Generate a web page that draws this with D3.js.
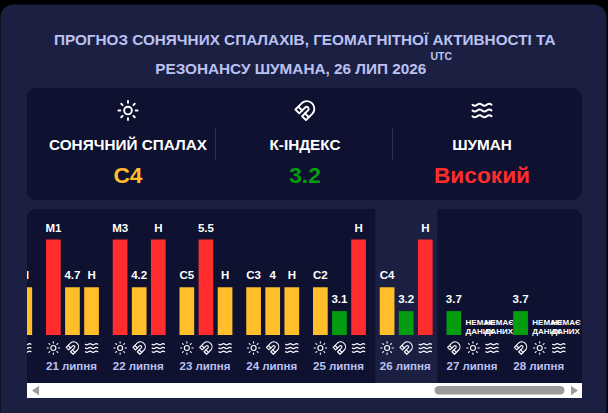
<!DOCTYPE html>
<html lang="uk">
<head>
<meta charset="utf-8">
<script src="https://cdn.jsdelivr.net/npm/d3@7"></script>
<style>
  html, body { margin: 0; padding: 0; background: #000; }
  svg { display: block; font-family: "Liberation Sans", Arial, sans-serif; }
</style>
</head>
<body>
<svg id="chart" width="608" height="413"></svg>
<script>
// Forecast values per day; severity: 1 low, 2 moderate, 4 high, null when nothing was published.
// The first day is scrolled almost out of the panel, so only its last column is kept.
const days = ["20 липня", "21 липня", "22 липня", "23 липня", "24 липня", "25 липня", "26 липня", "27 липня", "28 липня"];
const flareLabels = ["", "M1", "M3", "C5", "C3", "C2", "C4", null, null];
const flareLevels = [0, 4, 4, 2, 2, 2, 2, null, null];
const kLabels = ["", "4.7", "4.2", "5.5", "4", "3.1", "3.2", "3.7", "3.7"];
const kLevels = [0, 2, 2, 4, 2, 1, 1, 1, 1];
const noiseLabels = ["Н", "Н", "Н", "Н", "Н", "Н", "Н", null, null];
const noiseLevels = [2, 2, 4, 2, 2, 4, 4, null, null];
const noDataLabel = ["НЕМАЄ", "ДАНИХ"];
const activeDay = "26 липня";

const titleLines = ["ПРОГНОЗ СОНЯЧНИХ СПАЛАХІВ, ГЕОМАГНІТНОЇ АКТИВНОСТІ ТА", "РЕЗОНАНСУ ШУМАНА, 26 ЛИП 2026"];
const summary = [
  { icon: "sun", name: "СОНЯЧНИЙ СПАЛАХ", value: "C4", level: 2 },
  { icon: "magnet", name: "К-ІНДЕКС", value: "3.2", level: 1 },
  { icon: "waves", name: "ШУМАН", value: "Високий", level: 4 }
];

const ICONS = {
  sun: ["M12 8a4 4 0 1 0 0 8a4 4 0 1 0 0-8", "M12 2v2", "M12 20v2", "m4.93 4.93 1.41 1.41", "m17.66 17.66 1.41 1.41", "M2 12h2", "M20 12h2", "m6.34 17.66-1.41 1.41", "m19.07 4.93-1.41 1.41"],
  magnet: ["m6 15-4-4 6.75-6.77a7.79 7.79 0 0 1 11 11L13 22l-4-4 6.39-6.36a2.14 2.14 0 0 0-3-3L6 15", "m5 8 4 4", "m12 15 4 4"],
  waves: ["M2 6c.6.5 1.2 1 2.5 1C7 7 7 5 9.5 5c2.6 0 2.4 2 5 2 2.5 0 2.5-2 5-2 1.3 0 1.9.5 2.5 1", "M2 12c.6.5 1.2 1 2.5 1 2.5 0 2.5-2 5-2 2.6 0 2.4 2 5 2 2.5 0 2.5-2 5-2 1.3 0 1.9.5 2.5 1", "M2 18c.6.5 1.2 1 2.5 1 2.5 0 2.5-2 5-2 2.6 0 2.4 2 5 2 2.5 0 2.5-2 5-2 1.3 0 1.9.5 2.5 1"]
};

const severityColor = d3.scaleOrdinal().domain([1, 2, 4]).range(["#039e0f", "#ffbe2a", "#ff2d2d"]);

const svg = d3.select("#chart");

function drawIcon(parent, name, cx, cy, size, color, strokeWidth) {
  const g = parent.append("g")
    .attr("transform", `translate(${cx - size / 2},${cy - size / 2}) scale(${size / 24})`)
    .attr("fill", "none").attr("stroke", color).attr("stroke-width", strokeWidth)
    .attr("stroke-linecap", "round").attr("stroke-linejoin", "round");
  g.selectAll("path").data(ICONS[name]).join("path").attr("d", d => d);
}

// Page card
svg.append("rect").attr("x", 0.5).attr("y", 4.5).attr("width", 606).attr("height", 440).attr("rx", 13).attr("fill", "#1b2043");

// Title
const title = svg.append("g").attr("text-anchor", "middle").attr("fill", "#bcc1f2").attr("font-weight", 700).attr("font-size", 15.3);
title.append("text").attr("x", 304.7).attr("y", 44.5).text(titleLines[0]);
title.append("text").attr("x", 290.8).attr("y", 74).text(titleLines[1]);
svg.append("text").attr("x", 430.5).attr("y", 59.5).attr("fill", "#bcc1f2").attr("font-weight", 700).attr("font-size", 10.5).text("UTC");

// Summary panel
svg.append("rect").attr("x", 27).attr("y", 88).attr("width", 555).attr("height", 112).attr("rx", 9).attr("fill", "#0e1130");
const summaryX = d3.scalePoint().domain(summary.map(d => d.name)).range([128, 482]);
summary.forEach(d => {
  const x = summaryX(d.name);
  drawIcon(svg, d.icon, x, 110.5, 23, "#ffffff", 2);
  svg.append("text").attr("x", x).attr("y", 150).attr("text-anchor", "middle").attr("fill", "#fff")
    .attr("font-weight", 700).attr("font-size", 15.3).text(d.name);
  svg.append("text").attr("x", x).attr("y", 183).attr("text-anchor", "middle").attr("fill", severityColor(d.level))
    .attr("font-weight", 700).attr("font-size", 22.7).text(d.value);
});
svg.selectAll("line.divider").data([215.5, 392.5]).join("line").attr("class", "divider")
  .attr("x1", d => d).attr("x2", d => d).attr("y1", 128).attr("y2", 159.5)
  .attr("stroke", "#2b3058").attr("stroke-width", 1);

// Scrollable chart panel
svg.append("path").attr("d", "M27 383V218a9 9 0 0 1 9-9H573a9 9 0 0 1 9 9V383Z").attr("fill", "#0e1130");
const clip = svg.append("clipPath").attr("id", "panel-clip");
clip.append("rect").attr("x", 27).attr("y", 209).attr("width", 555).attr("height", 174);
const plot = svg.append("g").attr("clip-path", "url(#panel-clip)");

const dayScale = d3.scaleBand().domain(days).range([-20.75, -20.75 + 66.75 * days.length]);
const slotScale = d3.scaleBand().domain([0, 1, 2]).range([0, 52.9]).paddingInner(0.23).paddingOuter(0);
const y = d3.scaleLinear().domain([0, 4]).range([335, 239.5]);

// The current day sits on a lighter column
plot.append("rect").attr("x", dayScale(activeDay) - 4.5).attr("y", 209).attr("width", 62).attr("height", 174).attr("fill", "#1b2043");

days.forEach((day, i) => {
  const metrics = [
    { icon: "sun", label: flareLabels[i], level: flareLevels[i] },
    { icon: "magnet", label: kLabels[i], level: kLevels[i] },
    { icon: "waves", label: noiseLabels[i], level: noiseLevels[i] }
  ];
  // Entries without data move behind the published ones
  const ordered = metrics.filter(m => m.level !== null).concat(metrics.filter(m => m.level === null));
  const g = plot.append("g").attr("transform", `translate(${dayScale(day)},0)`);
  ordered.forEach((m, s) => {
    if (m.level === 0) return;
    const x = slotScale(s);
    const cx = x + slotScale.bandwidth() / 2;
    if (m.level !== null) {
      g.append("rect").attr("x", x).attr("y", y(m.level)).attr("width", slotScale.bandwidth()).attr("height", y(0) - y(m.level))
        .attr("fill", severityColor(m.level));
      g.append("text").attr("x", cx).attr("y", y(m.level) - 8).attr("text-anchor", "middle").attr("fill", "#fff")
        .attr("font-weight", 700).attr("font-size", 11.5).text(m.label);
    } else {
      const t = g.append("text").attr("fill", "#fff").attr("font-weight", 700).attr("font-size", 8);
      noDataLabel.forEach((line, k) => t.append("tspan").attr("x", x).attr("y", 325 + k * 9).text(line));
    }
    drawIcon(g, m.icon, cx, 348, 15, "#ffffff", 1.8);
  });
  // The date of a day that has scrolled away is not shown
  if (dayScale(day) >= 27) {
    g.append("text").attr("x", 0).attr("y", 369.5).attr("fill", "#bcc1f2").attr("font-weight", 700)
      .attr("font-size", 11.5).text(day);
  }
});

// Horizontal scrollbar
const bar = svg.append("g");
bar.append("rect").attr("x", 27).attr("y", 383).attr("width", 555).attr("height", 15).attr("fill", "#fff");
bar.append("rect").attr("x", 434.5).attr("y", 386).attr("width", 130).attr("height", 8.5).attr("rx", 4.2).attr("fill", "#9b9b9b");
bar.append("path").attr("d", "M32 390.5L39 385.8V395.2Z").attr("fill", "#9b9b9b");
bar.append("path").attr("d", "M578 390.5L571 385.8V395.2Z").attr("fill", "#9b9b9b");
</script>
</body>
</html>
